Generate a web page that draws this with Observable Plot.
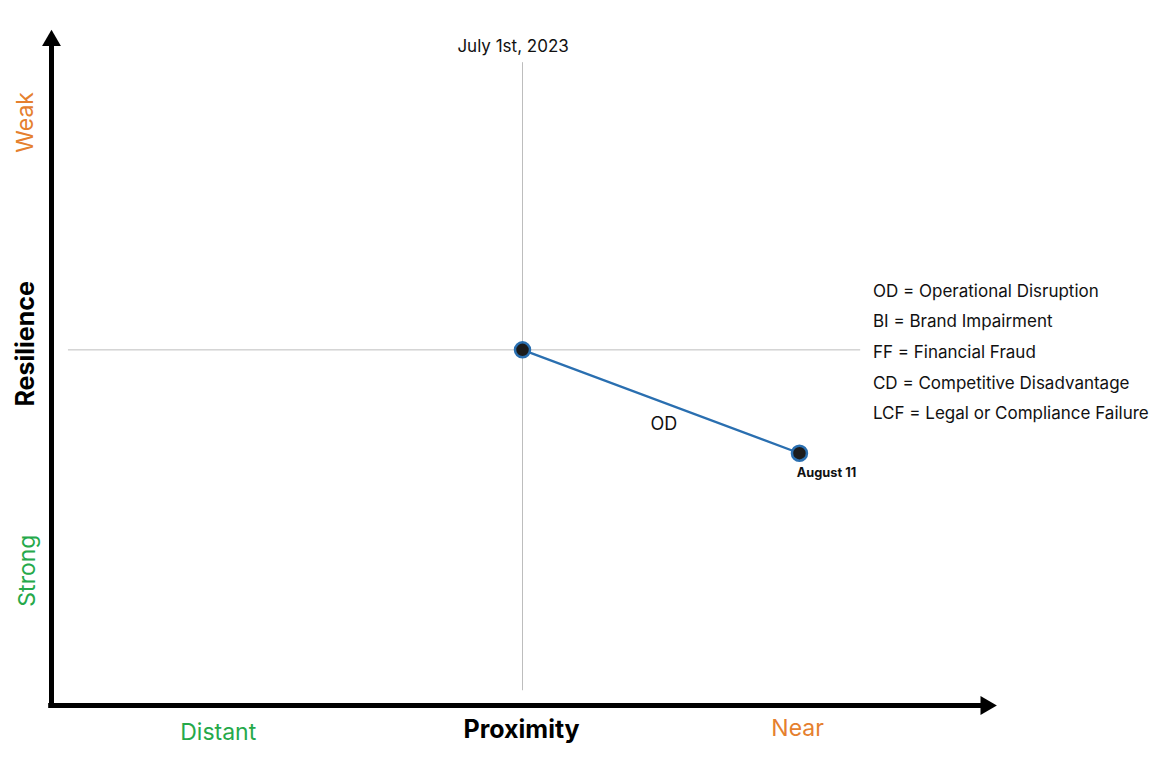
<!DOCTYPE html>
<html>
<head>
<meta charset="utf-8">
<script src="https://cdn.jsdelivr.net/npm/d3@7"></script>
<script src="https://cdn.jsdelivr.net/npm/@observablehq/plot@0.6"></script>
<style>
  html, body { margin: 0; padding: 0; background: #ffffff; }
  #chart svg { display: block; }
</style>
</head>
<body>
<div id="chart"></div>
<script>
// ---- Data ----
const riskCodes = ["OD", "OD"];
const pointDates = ["July 1st, 2023", "August 11"];
const proximity = [50, 79.4];      // 0 = Distant, 100 = Near
const resilience = [53, 37.6];     // 0 = Strong, 100 = Weak

const legendItems = [
  "OD = Operational Disruption",
  "BI = Brand Impairment",
  "FF = Financial Fraud",
  "CD = Competitive Disadvantage",
  "LCF = Legal or Compliance Failure"
];

const referenceX = 50;   // July 1st, 2023 proximity
const referenceY = 53;   // July 1st, 2023 resilience

const points = proximity.map((p, i) => ({code: riskCodes[i], date: pointDates[i], x: p, y: resilience[i]}));

const ORANGE = "#e5802e";
const GREEN = "#25a94a";
const BLUE = "#2a6fb0";

const chart = Plot.plot({
  width: 1169,
  height: 771,
  marginLeft: 51,
  marginRight: 176,
  marginTop: 34,
  marginBottom: 66,
  x: {domain: [0, 100], axis: null},
  y: {domain: [0, 100], axis: null},
  style: {fontFamily: "Inter, 'Noto Sans', sans-serif", background: "#ffffff"},
  marks: [
    // reference lines
    Plot.ruleX([referenceX], {y1: 2.2, y2: 95.8, stroke: "#bdbdbd", strokeWidth: 1}),
    Plot.ruleY([referenceY], {x1: 1.8, x2: 85.9, stroke: "#bdbdbd", strokeWidth: 1}),
    // axes arrows
    Plot.ruleY([0], {x1: -0.3, x2: 99, stroke: "#000", strokeWidth: 5}),
    Plot.ruleX([0], {y1: -0.4, y2: 99, stroke: "#000", strokeWidth: 5}),
    Plot.dot([{x: 99.2, y: 0}], {x: "x", y: "y", symbol: "triangle2", r: 9, fill: "#000", rotate: 90}),
    Plot.dot([{x: 0, y: 99.1}], {x: "x", y: "y", symbol: "triangle2", r: 9, fill: "#000"}),
    // axis labels
    Plot.text(["Weak"], {x: -2.76, y: 86.9, text: d => d, rotate: -90, fill: ORANGE, fontSize: 23}),
    Plot.text(["Strong"], {x: -2.55, y: 20.1, text: d => d, rotate: -90, fill: GREEN, fontSize: 23}),
    Plot.text(["Resilience"], {x: -2.76, y: 53.9, text: d => d, rotate: -90, fill: "#000", fontSize: 25, fontWeight: "bold"}),
    Plot.text(["Distant"], {x: 17.7, y: -4.0, text: d => d, fill: GREEN, fontSize: 23}),
    Plot.text(["Proximity"], {x: 49.9, y: -3.6, text: d => d, fill: "#000", fontSize: 25, fontWeight: "bold"}),
    Plot.text(["Near"], {x: 79.2, y: -3.4, text: d => d, fill: ORANGE, fontSize: 23}),
    Plot.text([pointDates[0]], {x: 49.0, y: 98.2, text: d => d, fill: "#111", fontSize: 17}),
    // series
    Plot.line(points, {x: "x", y: "y", stroke: BLUE, strokeWidth: 2.2}),
    Plot.dot(points, {x: "x", y: "y", r: 7.5, fill: "#1c1c1c", stroke: BLUE, strokeWidth: 2.5}),
    Plot.text([points[0]], {x: (points[0].x + points[1].x) / 2 + 0.3, y: (points[0].y + points[1].y) / 2, dy: 23, text: "code", fill: "#111", fontSize: 18}),
    Plot.text([points[1]], {x: "x", y: "y", dx: 27, dy: 20, text: "date", fill: "#111", fontSize: 12.8, fontWeight: "bold"}),
    // legend
    Plot.text(legendItems, {x: 87.2, y: (d, i) => 61.7 - i * 4.55, text: d => d, textAnchor: "start", fill: "#111", fontSize: 17})
  ]
});

document.getElementById("chart").appendChild(chart);
</script>
</body>
</html>
